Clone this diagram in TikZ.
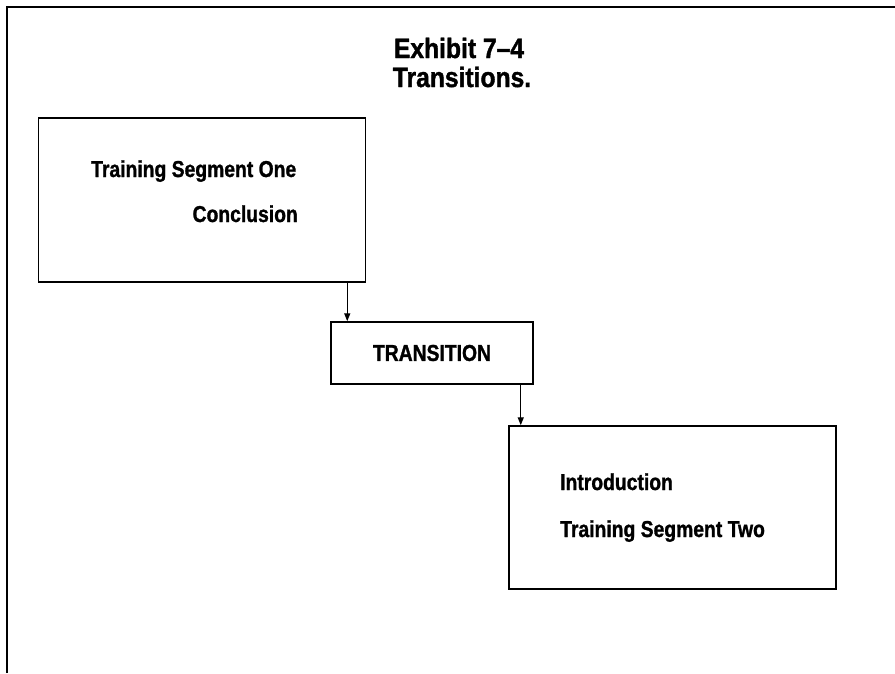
\documentclass[tikz,border=0pt]{standalone}
\usepackage{fontspec}
\setmainfont{Liberation Sans}[FakeStretch=0.84, BoldFeatures={FakeBold=1.2}]
\newfontfamily\titlefont{Liberation Sans Bold}[Ligatures=TeX, FakeStretch=0.88, FakeBold=1.4]
\usetikzlibrary{positioning,arrows.meta}

\begin{document}
\begin{tikzpicture}[x=1pt,y=-1pt,
    box/.style = {draw, line width=1.5pt, inner sep=0pt},
    lbl/.style = {font=\fontsize{23}{27}\selectfont\bfseries, inner sep=0pt},
    ttl/.style = {font=\fontsize{28}{32}\titlefont, inner sep=0pt},
    arr/.style = {line width=1.4pt, -{Triangle[length=8pt,width=6pt]}}]
    \useasboundingbox (0,0) rectangle (895,673);
    \draw[line width=1.5pt] (7,673) -- (7,7) -- (895,7);

    \node[ttl](title1) at (459,48){Exhibit 7–4};
    \node[ttl](title2) at (462,77){Transitions.};

    \node[box, minimum width=327pt, minimum height=164pt](seg1) at (202,200){};
    \node[box, minimum width=202pt, minimum height=62pt](trans) at (432,353){};
    \node[box, minimum width=327pt, minimum height=163pt](seg2) at (672.5,507.5){};

    \node[lbl, anchor=base west](one) at (91,177){Training Segment One};
    \node[lbl, anchor=base east](concl) at (298,222){Conclusion};
    \node[lbl](transtxt) at (trans){TRANSITION};
    \node[lbl, anchor=base west](intro) at (560,490){Introduction};
    \node[lbl, anchor=base west](two) at (560,537){Training Segment Two};

    \coordinate (a1) at ([xshift=-19pt]seg1.south east);
    \coordinate (a2) at ([xshift=-13pt]trans.south east);
    \draw[arr] (a1) -- (a1 |- trans.north);
    \draw[arr] (a2) -- (a2 |- seg2.north);
\end{tikzpicture}
\end{document}
